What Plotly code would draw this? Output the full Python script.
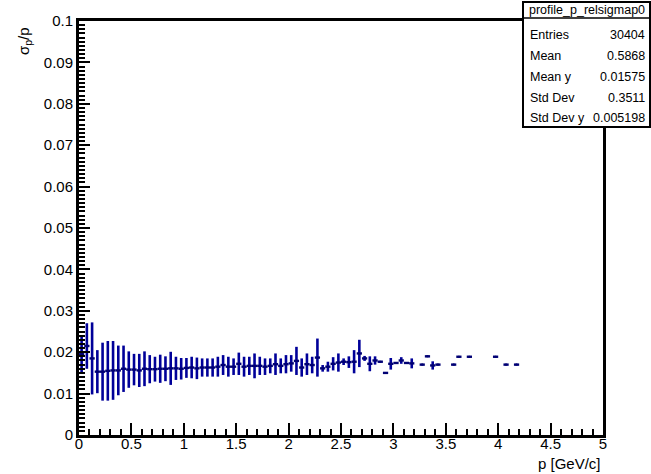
import plotly.graph_objects as go

# Profile of relative momentum resolution vs momentum (bin width 0.05 GeV/c)
p_centers = [
    0.025, 0.075, 0.125, 0.175, 0.225, 0.275, 0.325, 0.375, 0.425, 0.475,
    0.525, 0.575, 0.625, 0.675, 0.725, 0.775, 0.825, 0.875, 0.925, 0.975,
    1.025, 1.075, 1.125, 1.175, 1.225, 1.275, 1.325, 1.375, 1.425, 1.475,
    1.525, 1.575, 1.625, 1.675, 1.725, 1.775, 1.825, 1.875, 1.925, 1.975,
    2.025, 2.075, 2.125, 2.175, 2.225, 2.275, 2.325, 2.375, 2.425, 2.475,
    2.525, 2.575, 2.625, 2.675, 2.725, 2.775, 2.825, 2.875, 2.925, 2.975,
    3.025, 3.075, 3.125, 3.175, 3.275, 3.325, 3.375, 3.425,
    3.575, 3.625, 3.725, 3.975, 4.075, 4.175,
]
sigma_mean = [
    0.0195, 0.0215, 0.0185, 0.0153, 0.0153, 0.0155, 0.0156, 0.0156, 0.0160, 0.0158,
    0.0158, 0.0156, 0.0160, 0.0159, 0.0159, 0.0160, 0.0160, 0.0161, 0.0161, 0.0160,
    0.0162, 0.0163, 0.0161, 0.0163, 0.0163, 0.0163, 0.0165, 0.0169, 0.0165, 0.0165,
    0.0172, 0.0165, 0.0167, 0.0167, 0.0167, 0.0165, 0.0167, 0.0171, 0.0167, 0.0171,
    0.0173, 0.0179, 0.0163, 0.0171, 0.0169, 0.0187, 0.0161, 0.0165, 0.0172, 0.0175,
    0.0177, 0.0176, 0.0177, 0.0197, 0.0185, 0.0172, 0.0180, 0.0177, 0.0150, 0.0172,
    0.0174, 0.0180, 0.0174, 0.0173, 0.0170, 0.0190, 0.0168, 0.0170,
    0.0170, 0.0189, 0.0189, 0.0189, 0.0170, 0.0170,
]
sigma_err = [
    0.0045, 0.0055, 0.0087, 0.0052, 0.0070, 0.0072, 0.0071, 0.0060, 0.0056, 0.0044,
    0.0038, 0.0040, 0.0042, 0.0034, 0.0030, 0.0034, 0.0030, 0.0040, 0.0028, 0.0026,
    0.0024, 0.0026, 0.0026, 0.0022, 0.0022, 0.0022, 0.0024, 0.0024, 0.0024, 0.0020,
    0.0027, 0.0024, 0.0022, 0.0030, 0.0022, 0.0020, 0.0018, 0.0026, 0.0018, 0.0022,
    0.0020, 0.0034, 0.0022, 0.0026, 0.0020, 0.0046, 0.0008, 0.0012, 0.0016, 0.0022,
    0.0008, 0.0014, 0.0028, 0.0033, 0.0006, 0.0018, 0.0010, 0.0002, 0.0002, 0.0014,
    0.0002, 0.0008, 0.0002, 0.0012, 0.0002, 0.0002, 0.0010, 0.0002,
    0.0002, 0.0002, 0.0002, 0.0002, 0.0002, 0.0002,
]
bin_half_width = 0.025

x_tick_vals = [0, 0.5, 1, 1.5, 2, 2.5, 3, 3.5, 4, 4.5, 5]
x_tick_text = ["0", "0.5", "1", "1.5", "2", "2.5", "3", "3.5", "4", "4.5", "5"]
y_tick_vals = [0, 0.01, 0.02, 0.03, 0.04, 0.05, 0.06, 0.07, 0.08, 0.09, 0.1]
y_tick_text = ["0", "0.01", "0.02", "0.03", "0.04", "0.05", "0.06", "0.07", "0.08", "0.09", "0.1"]

stats_title = "profile_p_relsigmap0"
stats_labels = ["Entries", "Mean", "Mean y", "Std Dev", "Std Dev y"]
stats_values = ["30404", "0.5868", "0.01575", "0.3511", "0.005198"]

W, H = 651, 474
ML, MR, MT, MB = 79, 48, 21, 39
PW, PH = W - ML - MR, H - MT - MB
FONT = "Liberation Sans, Arial, Helvetica, sans-serif"
BLUE = "#000099"


def px_x(px):
    return (px - ML) / PW


def px_y(py):
    return (H - MB - py) / PH


fig = go.Figure()
fig.add_trace(go.Scatter(
    x=p_centers,
    y=sigma_mean,
    mode="markers",
    marker=dict(size=2, color="#000070"),
    error_y=dict(type="data", array=sigma_err, visible=True,
                 color=BLUE, thickness=2.6, width=0),
    error_x=dict(type="constant", value=bin_half_width, visible=True,
                 color="#000075", thickness=2.4, width=0),
    cliponaxis=False,
    hoverinfo="skip",
))

axis_common = dict(
    showgrid=False, zeroline=False,
    showline=True, linecolor="black", linewidth=3, mirror=True,
    ticks="inside", tickcolor="black", tickwidth=2,
    tickfont=dict(family=FONT, size=15, color="black"),
)

fig.update_xaxes(
    range=[0, 5], tickvals=x_tick_vals, ticktext=x_tick_text, ticklen=12,
    ticklabelstandoff=-7,
    minor=dict(ticks="inside", dtick=0.1, tick0=0, ticklen=6,
               tickwidth=2, tickcolor="black"),
    **axis_common,
)
fig.update_yaxes(
    range=[0, 0.1], tickvals=y_tick_vals, ticktext=y_tick_text, ticklen=11,
    minor=dict(ticks="inside", dtick=0.001, tick0=0, ticklen=6,
               tickwidth=2, tickcolor="black"),
    **axis_common,
)

annotations = [
    dict(text="p [GeV/c]", x=1.0, y=px_y(463), xref="paper", yref="paper",
         xanchor="right", yanchor="middle", showarrow=False,
         font=dict(family=FONT, size=15, color="black")),
    dict(text="σ<sub>p</sub>/p", x=px_x(24), y=px_y(25), xref="paper", yref="paper",
         xanchor="center", yanchor="top", textangle=-90, showarrow=False,
         font=dict(family=FONT, size=15, color="black")),
]

# statistics box
bx0, bx1, by0, by1, bsep = 523, 650, 2, 127, 18
shapes = [
    dict(type="rect", xref="paper", yref="paper",
         x0=px_x(bx0), x1=px_x(bx1), y0=px_y(by1), y1=px_y(by0),
         line=dict(color="black", width=2), fillcolor="white", layer="above"),
    dict(type="line", xref="paper", yref="paper",
         x0=px_x(bx0), x1=px_x(bx1), y0=px_y(bsep), y1=px_y(bsep),
         line=dict(color="black", width=1.5), layer="above"),
]
annotations.append(dict(
    text=stats_title, x=px_x((bx0 + bx1) / 2), y=px_y(10), xref="paper", yref="paper",
    xanchor="center", yanchor="middle", showarrow=False,
    font=dict(family=FONT, size=12.5, color="black")))
row_y = [35, 56, 76.5, 97.5, 118]
for lab, val, ry in zip(stats_labels, stats_values, row_y):
    annotations.append(dict(
        text=lab, x=px_x(528), y=px_y(ry), xref="paper", yref="paper",
        xanchor="left", yanchor="middle", showarrow=False,
        font=dict(family=FONT, size=12.5, color="black")))
    annotations.append(dict(
        text=val, x=px_x(647), y=px_y(ry), xref="paper", yref="paper",
        xanchor="right", yanchor="middle", showarrow=False,
        font=dict(family=FONT, size=12.5, color="black")))

fig.update_layout(
    width=W, height=H,
    margin=dict(l=ML, r=MR, t=MT, b=MB, pad=0),
    paper_bgcolor="white", plot_bgcolor="white",
    showlegend=False,
    shapes=shapes,
    annotations=annotations,
)

fig.write_html("out.html")
